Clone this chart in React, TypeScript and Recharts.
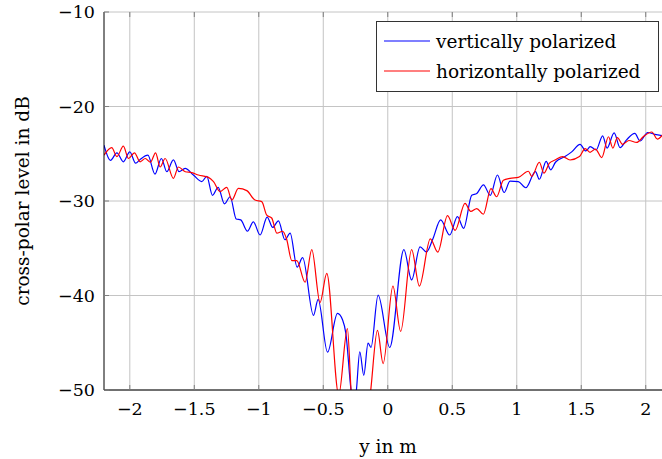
import React from 'react';
import { LineChart, Line, XAxis, YAxis, CartesianGrid } from 'recharts';

const vX = [-2.2, -2.15, -2.1, -2.05, -2.0, -1.955, -1.92, -1.86, -1.805, -1.755, -1.713, -1.662, -1.618, -1.571, -1.507, -1.442, -1.403, -1.359, -1.315, -1.266, -1.222, -1.175, -1.14, -1.088, -1.042, -0.99, -0.935, -0.892, -0.848, -0.797, -0.757, -0.703, -0.66, -0.576, -0.54, -0.467, -0.39, -0.35, -0.325, -0.285, -0.26, -0.243, -0.217, -0.186, -0.153, -0.13, -0.075, 0.015, 0.125, 0.185, 0.25, 0.3, 0.35, 0.41, 0.48, 0.54, 0.588, 0.651, 0.69, 0.742, 0.795, 0.85, 0.902, 0.948, 1.012, 1.07, 1.145, 1.175, 1.228, 1.263, 1.3, 1.374, 1.426, 1.491, 1.535, 1.57, 1.615, 1.666, 1.7, 1.755, 1.801, 1.853, 1.915, 1.956, 2.015, 2.07, 2.13];
const vY = [-24.1, -25.7, -24.9, -25.85, -24.8, -26.0, -25.6, -25.15, -27.15, -25.5, -26.9, -25.65, -26.9, -26.55, -27.25, -27.95, -27.4, -29.4, -28.55, -30.3, -29.55, -31.9, -32.0, -33.2, -32.2, -33.6, -31.7, -32.8, -32.1, -34.1, -33.4, -37.0, -36.0, -42.1, -40.4, -46.0, -41.9, -42.6, -44.0, -50.0, -52.0, -50.0, -45.95, -48.45, -45.05, -45.5, -39.95, -45.5, -35.15, -38.35, -34.85, -35.4, -34.0, -32.0, -33.6, -31.66, -32.9, -29.4, -29.2, -28.3, -29.4, -27.25, -29.1, -27.9, -27.95, -28.6, -26.9, -27.7, -25.8, -26.7, -25.9, -25.3, -24.8, -24.0, -24.7, -24.25, -24.6, -23.1, -24.4, -22.8, -24.35, -23.5, -22.85, -23.65, -22.75, -22.95, -23.1];

const hX = [-2.2, -2.14, -2.1, -2.05, -2.01, -1.964, -1.92, -1.88, -1.84, -1.8, -1.765, -1.726, -1.662, -1.623, -1.57, -1.519, -1.468, -1.39, -1.351, -1.3, -1.248, -1.209, -1.158, -1.093, -1.029, -0.977, -0.938, -0.9, -0.86, -0.815, -0.785, -0.744, -0.705, -0.641, -0.589, -0.525, -0.473, -0.38, -0.313, -0.28, -0.2, -0.136, -0.08, -0.036, 0.04, 0.1, 0.185, 0.245, 0.33, 0.388, 0.463, 0.522, 0.599, 0.643, 0.69, 0.741, 0.8, 0.844, 0.896, 0.948, 1.012, 1.09, 1.116, 1.175, 1.21, 1.253, 1.297, 1.356, 1.413, 1.486, 1.53, 1.568, 1.61, 1.659, 1.711, 1.745, 1.78, 1.82, 1.87, 1.93, 1.98, 2.047, 2.09, 2.13];
const hY = [-25.15, -24.35, -25.3, -24.2, -25.5, -24.9, -25.85, -25.5, -25.9, -24.9, -26.4, -25.5, -27.6, -26.4, -26.9, -27.0, -27.25, -27.5, -27.95, -29.0, -28.55, -29.9, -28.66, -28.9, -29.9, -30.07, -31.5, -31.8, -33.4, -33.2, -34.0, -36.3, -36.3, -38.6, -35.15, -40.75, -37.65, -50.5, -43.5, -51.0, -56.0, -50.5, -43.7, -47.2, -39.0, -43.8, -35.15, -39.0, -34.0, -35.4, -31.55, -33.1, -30.25, -31.1, -30.8, -31.4, -28.7, -29.55, -27.8, -27.6, -27.5, -26.85, -27.4, -25.9, -27.05, -26.0, -25.66, -25.3, -25.66, -25.3, -24.45, -24.85, -24.5, -25.4, -23.2, -24.4, -23.3, -24.0, -23.6, -23.8, -23.2, -22.7, -23.45, -23.0];

const xTicks = [-2, -1.5, -1, -0.5, 0, 0.5, 1, 1.5, 2];
const yTicks = [-50, -40, -30, -20, -10];
const seriesNames = ['vertically polarized', 'horizontally polarized'];
const seriesColors = ['#0000ff', '#ff0000'];

const vData = vX.map((x, i) => ({ x, v: vY[i] }));
const hData = hX.map((x, i) => ({ x, h: hY[i] }));

const FONT = 'DejaVu Serif';
const FS = 17.5;
const LFS = 18.5;
const PLOT_H = 378;

const fmt = (n: number) => String(n).replace('-', '\u2212');

const XTick = (props: any) => {
  const { x, y, payload } = props;
  return (
    <g>
      <line x1={x} x2={x} y1={y} y2={y - 5} stroke="#7f7f7f" strokeWidth={1} />
      <line x1={x} x2={x} y1={y - PLOT_H} y2={y - PLOT_H + 5} stroke="#7f7f7f" strokeWidth={1} />
      <text x={x} y={y + 25} textAnchor="middle" fontFamily={FONT} fontSize={FS} fill="#000">
        {fmt(payload.value)}
      </text>
    </g>
  );
};

const YTick = (props: any) => {
  const { x, y, payload } = props;
  return (
    <g>
      <line x1={x} x2={x + 5} y1={y} y2={y} stroke="#7f7f7f" strokeWidth={1} />
      <text x={x - 9} y={y + 6} textAnchor="end" fontFamily={FONT} fontSize={FS} fill="#000">
        {fmt(payload.value)}
      </text>
    </g>
  );
};

const LegendBox = () => (
  <div
    style={{
      position: 'absolute',
      left: 376,
      top: 21,
      width: 283,
      height: 71,
      border: '1px solid #333',
      background: '#fff',
      boxSizing: 'border-box',
      fontFamily: FONT,
      fontSize: 18.5,
      color: '#000',
    }}
  >
    {seriesNames.map((n, i) => (
      <div key={n} style={{ position: 'absolute', left: 7, top: 5 + i * 30, height: 28, display: 'flex', alignItems: 'center' }}>
        <svg width={46} height={4} style={{ display: 'block' }}>
          <line x1={0} x2={46} y1={2} y2={2} stroke={seriesColors[i]} strokeWidth={1.2} />
        </svg>
        <span style={{ marginLeft: 6, whiteSpace: 'nowrap' }}>{n}</span>
      </div>
    ))}
  </div>
);

export default function App() {
  return (
    <div style={{ position: 'absolute', left: 0, top: 0, width: 662, height: 459, background: '#fff' }}>
      <LineChart width={662} height={459} margin={{ top: 12, right: 0, bottom: 0, left: 0 }}>
        <CartesianGrid
          xAxisId="main"
          stroke="#c4c4c4"
          strokeWidth={1}
          horizontalValues={yTicks}
          verticalValues={xTicks}
        />
        <XAxis
          xAxisId="top"
          orientation="top"
          type="number"
          dataKey="x"
          domain={[-2.2, 2.126]}
          allowDataOverflow
          height={0}
          tick={false}
          tickLine={false}
          axisLine={{ stroke: '#000', strokeWidth: 1 }}
        />
        <XAxis
          xAxisId="main"
          type="number"
          dataKey="x"
          domain={[-2.2, 2.126]}
          allowDataOverflow
          ticks={xTicks}
          height={69}
          tickSize={0}
          tickMargin={0}
          tickLine={false}
          axisLine={{ stroke: '#000', strokeWidth: 1 }}
          tick={<XTick />}
          interval={0}
          label={{
            content: (p: any) => (
              <text
                x={p.viewBox.x + p.viewBox.width / 2 + 5}
                y={p.viewBox.y + 63}
                textAnchor="middle"
                fontFamily={FONT}
                fontSize={LFS}
                fill="#000"
              >
                y in m
              </text>
            ),
          }}
        />
        <YAxis
          type="number"
          domain={[-50, -10]}
          allowDataOverflow
          ticks={yTicks}
          width={104}
          tickSize={0}
          tickMargin={0}
          tickLine={false}
          axisLine={{ stroke: '#000', strokeWidth: 1 }}
          tick={<YTick />}
          interval={0}
          label={{
            content: (p: any) => {
              const cx = 29;
              const cy = p.viewBox.y + p.viewBox.height / 2;
              return (
                <text
                  x={cx}
                  y={cy}
                  transform={`rotate(-90 ${cx} ${cy})`}
                  textAnchor="middle"
                  fontFamily={FONT}
                  fontSize={LFS}
                  fill="#000"
                >
                  cross-polar level in dB
                </text>
              );
            },
          }}
        />
        <Line
          xAxisId="main"
          data={vData}
          dataKey="v"
          type="monotone"
          stroke={seriesColors[0]}
          strokeWidth={1.2}
          dot={false}
          isAnimationActive={false}
          name={seriesNames[0]}
        />
        <Line
          xAxisId="main"
          data={hData}
          dataKey="h"
          type="monotone"
          stroke={seriesColors[1]}
          strokeWidth={1.2}
          dot={false}
          isAnimationActive={false}
          name={seriesNames[1]}
        />
      </LineChart>
      <LegendBox />
    </div>
  );
}
